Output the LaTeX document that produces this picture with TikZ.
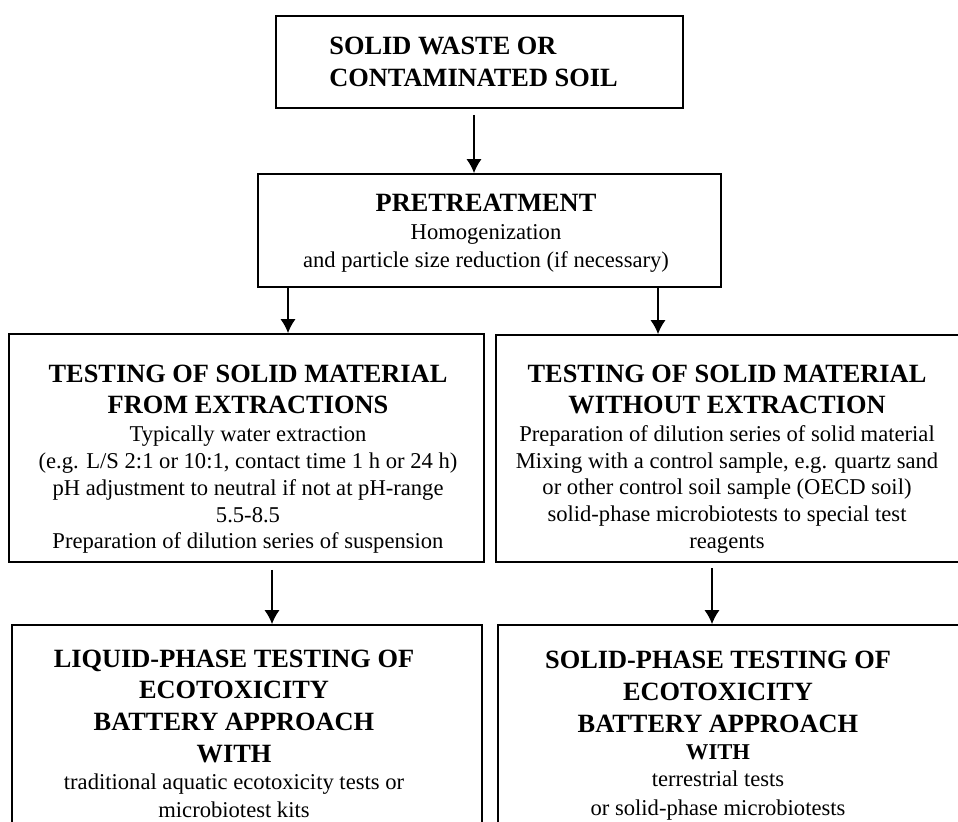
\documentclass[tikz,border=0pt]{standalone}
\usepackage{fontspec}
\setmainfont{Liberation Serif}
\usetikzlibrary{arrows.meta}
\tikzset{flowbox/.style 2 args={draw,line width=1pt,minimum width=#1*0.531pt,minimum height=#2*0.531pt,inner sep=0pt},
  boxtext/.style={align=center,inner sep=0pt,anchor=north,font=\fontsize{12}{14.2}\selectfont},
  flowarrow/.style={->,line width=0.7pt}}
\newcommand{\hd}[1]{{\fontsize{14}{16.8}\selectfont\bfseries #1}}

\begin{document}
\begin{tikzpicture}[x=0.531pt,y=-0.531pt,>={Latex[length=7.4pt,width=8pt]}]
    \useasboundingbox (0,0) rectangle (958,821);

    % boxes
    \node[flowbox={407}{92}] (waste) at (479.5,62) {};
    \node[flowbox={463}{113}] (pretreat) at (489.5,230.5) {};
    \node[flowbox={475}{228}] (extr) at (246.5,448) {};
    \node[flowbox={466}{227}] (noextr) at (729,448.5) {};
    \node[flowbox={470}{205}] (liquid) at (247,727.5) {};
    \node[flowbox={467}{205}] (solid) at (731.5,727.5) {};

    % texts
    \node[boxtext,anchor=north west,align=left] (wastetxt) at (329,36.5) {\hd{SOLID WASTE OR}\\[2.7pt]\hd{CONTAMINATED SOIL}};
    \node[boxtext] (pretreattxt) at (486,193.5) {\hd{PRETREATMENT}\\[0.7pt]Homogenization\\[0.7pt]and particle size reduction (if necessary)};
    \node[boxtext] (extrtxt) at (248,364.5) {\hd{TESTING OF SOLID MATERIAL}\\[2.4pt]\hd{FROM EXTRACTIONS}\\[0.8pt]Typically water extraction\\(e.g. L/S 2:1 or 10:1, contact time 1 h or 24 h)\\pH adjustment to neutral if not at pH-range\\5.5-8.5\\Preparation of dilution series of suspension};
    \node[boxtext] (noextrtxt) at (727,364.5) {\hd{TESTING OF SOLID MATERIAL}\\[2.4pt]\hd{WITHOUT EXTRACTION}\\[0.6pt]Preparation of dilution series of solid material\\Mixing with a control sample, e.g. quartz sand\\or other control soil sample (OECD soil)\\solid-phase microbiotests to special test\\reagents};
    \node[boxtext] (liquidtxt) at (234,649.5) {\hd{LIQUID-PHASE TESTING OF}\\[2.2pt]\hd{ECOTOXICITY}\\[3pt]\hd{BATTERY APPROACH}\\[2.7pt]\hd{WITH}\\[0.3pt]traditional aquatic ecotoxicity tests or\\[0.7pt]microbiotest kits};
    \node[boxtext] (solidtxt) at (718,650.5) {\hd{SOLID-PHASE TESTING OF}\\[2.7pt]\hd{ECOTOXICITY}\\[2.7pt]\hd{BATTERY APPROACH}\\[0.6pt]\textbf{WITH}\\[0.2pt]terrestrial tests\\[0.7pt]or solid-phase microbiotests};

    % arrows
    \foreach \src/\dst/\ax/\gap in {waste/pretreat/474/3.2pt,pretreat/extr/288/0pt,pretreat/noextr/658/0pt,extr/liquid/272/3.7pt,noextr/solid/712/2.7pt}
      \draw[flowarrow,shorten <=\gap] (\ax,0 |- \src.south) -- (\ax,0 |- \dst.north);
  \end{tikzpicture}
\end{document}
